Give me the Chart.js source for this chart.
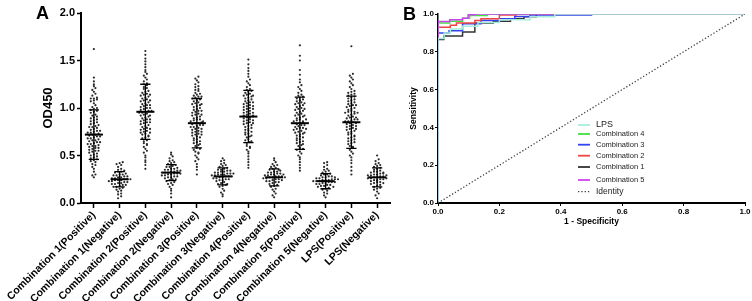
<!DOCTYPE html>
<html>
<head>
<meta charset="utf-8">
<script src="https://cdn.jsdelivr.net/npm/chart.js@4.4.0/dist/chart.umd.min.js"></script>
<style>
  html, body { margin: 0; padding: 0; background: #fff; }
  #wrap { position: relative; width: 752px; height: 301px; overflow: hidden; }
  #chartA { position: absolute; left: 0; top: 0; }
  #chartB { position: absolute; left: 390px; top: 0; }
</style>
</head>
<body>
<div id="wrap">
  <canvas id="chartA" width="400" height="301"></canvas>
  <canvas id="chartB" width="362" height="301"></canvas>
</div>
<script>
// ---- Panel A data ----
const groups = [
  'Combination 1(Positive)', 'Combination 1(Negative)',
  'Combination 2(Positive)', 'Combination 2(Negative)',
  'Combination 3(Positive)', 'Combination 3(Negative)',
  'Combination 4(Positive)', 'Combination 4(Negative)',
  'Combination 5(Positive)', 'Combination 5(Negative)',
  'LPS(Positive)', 'LPS(Negative)'
];

const comb1Pos = [0.27,0.29,0.30,0.33,0.36,0.38,0.40,0.41,0.43,0.44,0.45,0.46,0.47,0.48,0.49,0.50,0.51,0.52,0.53,0.54,
  0.55,0.55,0.56,0.57,0.58,0.58,0.59,0.60,0.60,0.61,0.62,0.62,0.63,0.64,0.64,0.65,0.66,0.66,0.67,0.68,
  0.68,0.69,0.70,0.70,0.71,0.72,0.72,0.73,0.74,0.74,0.75,0.76,0.76,0.77,0.78,0.79,0.80,0.80,0.81,0.82,
  0.83,0.84,0.85,0.86,0.87,0.88,0.89,0.90,0.91,0.92,0.93,0.95,0.96,0.97,0.98,0.99,1.00,1.01,1.03,1.05,
  1.07,1.08,1.09,1.10,1.10,1.11,1.13,1.15,1.17,1.19,1.21,1.23,1.25,1.28,1.32,1.62];
const comb1Neg = [0.05,0.07,0.09,0.10,0.12,0.13,0.14,0.15,0.16,0.17,0.17,0.18,0.19,0.19,0.20,0.20,0.21,0.21,0.22,0.22,
  0.23,0.23,0.24,0.24,0.24,0.25,0.25,0.25,0.26,0.26,0.27,0.27,0.28,0.28,0.29,0.29,0.30,0.30,0.31,0.32,
  0.33,0.33,0.34,0.35,0.36,0.38,0.40,0.41,0.42,0.43];
const comb2Pos = [0.36,0.40,0.43,0.45,0.48,0.50,0.53,0.55,0.57,0.59,0.61,0.63,0.65,0.66,0.68,0.69,0.70,0.72,0.73,0.74,
  0.75,0.76,0.77,0.78,0.79,0.80,0.81,0.82,0.83,0.84,0.85,0.86,0.87,0.88,0.89,0.90,0.91,0.92,0.93,0.94,
  0.95,0.95,0.96,0.97,0.98,0.99,1.00,1.01,1.02,1.03,1.04,1.05,1.06,1.07,1.08,1.09,1.10,1.11,1.12,1.13,
  1.14,1.15,1.16,1.17,1.18,1.20,1.21,1.22,1.24,1.25,1.26,1.28,1.30,1.32,1.34,1.36,1.38,1.40,1.43,1.46,
  1.49,1.52,1.56,1.60,0.71,0.78,0.85,0.92,0.97,1.03,1.08,1.14,0.62,0.74,0.88,1.00];
const comb2Neg = [0.06,0.10,0.13,0.15,0.17,0.19,0.20,0.21,0.22,0.23,0.24,0.25,0.25,0.26,0.27,0.27,0.28,0.28,0.29,0.29,
  0.30,0.30,0.31,0.31,0.31,0.32,0.32,0.32,0.33,0.33,0.34,0.34,0.35,0.35,0.36,0.36,0.37,0.38,0.38,0.39,
  0.40,0.41,0.42,0.43,0.44,0.45,0.47,0.49,0.51,0.53];
const comb3Pos = [0.30,0.35,0.38,0.41,0.44,0.46,0.48,0.50,0.52,0.54,0.56,0.58,0.60,0.61,0.63,0.64,0.66,0.67,0.68,0.70,
  0.71,0.72,0.73,0.74,0.75,0.76,0.77,0.78,0.79,0.80,0.80,0.81,0.82,0.83,0.84,0.84,0.85,0.86,0.87,0.88,
  0.89,0.90,0.91,0.92,0.93,0.94,0.95,0.96,0.97,0.98,0.99,1.00,1.01,1.02,1.03,1.04,1.05,1.06,1.07,1.08,
  1.09,1.10,1.11,1.12,1.13,1.14,1.15,1.16,1.18,1.19,1.20,1.22,1.23,1.25,1.27,1.29,1.31,1.33,
  0.62,0.69,0.75,0.82,0.88,0.93,0.57,0.65,0.78,0.86,0.97,1.04,1.12,0.53,0.72];
const comb3Neg = [0.07,0.09,0.11,0.13,0.15,0.17,0.18,0.19,0.20,0.21,0.22,0.23,0.24,0.24,0.25,0.26,0.26,0.27,0.27,0.28,
  0.28,0.29,0.29,0.30,0.30,0.30,0.31,0.31,0.32,0.32,0.33,0.33,0.34,0.35,0.35,0.36,0.37,0.38,0.39,0.40,
  0.41,0.42,0.44,0.45,0.47,0.20,0.25,0.28,0.31,0.34];
const comb4Pos = [0.37,0.40,0.43,0.46,0.49,0.52,0.54,0.56,0.58,0.60,0.62,0.64,0.66,0.67,0.69,0.70,0.72,0.73,0.74,0.76,
  0.77,0.78,0.79,0.80,0.81,0.82,0.83,0.84,0.85,0.86,0.87,0.88,0.89,0.90,0.90,0.91,0.92,0.93,0.94,0.95,
  0.96,0.97,0.98,0.99,1.00,1.01,1.02,1.03,1.04,1.05,1.06,1.07,1.08,1.09,1.10,1.11,1.12,1.13,1.14,1.15,
  1.16,1.17,1.18,1.19,1.20,1.22,1.24,1.26,1.28,1.30,1.33,1.36,1.39,1.42,1.46,1.51,
  0.65,0.75,0.84,0.92,0.99,1.06,1.13,0.59,0.71,0.87,0.95,1.02];
const comb4Neg = [0.06,0.08,0.10,0.12,0.14,0.15,0.17,0.18,0.19,0.20,0.21,0.22,0.23,0.23,0.24,0.25,0.25,0.26,0.26,0.27,
  0.27,0.28,0.28,0.28,0.29,0.29,0.30,0.30,0.31,0.31,0.32,0.32,0.33,0.33,0.34,0.35,0.36,0.37,0.38,0.39,
  0.40,0.41,0.43,0.45,0.47,0.22,0.27,0.30,0.24,0.35];
const comb5Pos = [0.34,0.37,0.40,0.43,0.46,0.48,0.50,0.52,0.54,0.56,0.58,0.60,0.61,0.63,0.64,0.66,0.67,0.68,0.70,0.71,
  0.72,0.73,0.74,0.75,0.76,0.77,0.78,0.79,0.80,0.81,0.82,0.82,0.83,0.84,0.85,0.86,0.87,0.88,0.89,0.90,
  0.91,0.92,0.93,0.94,0.95,0.96,0.97,0.98,0.99,1.00,1.01,1.02,1.03,1.04,1.05,1.06,1.07,1.08,1.09,1.10,
  1.11,1.12,1.13,1.14,1.16,1.18,1.20,1.22,1.24,1.27,1.30,1.35,1.40,1.50,1.55,1.66,
  0.62,0.69,0.74,0.79,0.86,0.92,0.99,1.05,0.57,0.65,0.78,0.88];
const comb5Neg = [0.06,0.08,0.10,0.11,0.13,0.14,0.15,0.16,0.17,0.18,0.18,0.19,0.20,0.20,0.21,0.21,0.22,0.22,0.23,0.23,
  0.23,0.24,0.24,0.24,0.25,0.25,0.26,0.26,0.27,0.27,0.28,0.28,0.29,0.30,0.30,0.31,0.32,0.33,0.34,0.35,
  0.36,0.38,0.40,0.42,0.43,0.19,0.22,0.25,0.27,0.17];
const lpsPos = [0.30,0.34,0.38,0.42,0.45,0.48,0.50,0.52,0.54,0.56,0.58,0.60,0.62,0.63,0.65,0.66,0.68,0.69,0.70,0.72,
  0.73,0.74,0.75,0.76,0.77,0.78,0.79,0.80,0.81,0.82,0.83,0.84,0.85,0.86,0.86,0.87,0.88,0.89,0.90,0.91,
  0.92,0.93,0.94,0.95,0.96,0.97,0.98,0.99,1.00,1.01,1.02,1.03,1.04,1.05,1.06,1.07,1.08,1.09,1.10,1.11,
  1.12,1.13,1.14,1.15,1.16,1.17,1.18,1.20,1.22,1.24,1.26,1.28,1.30,1.32,1.34,1.36,1.65,
  0.64,0.71,0.78,0.84,0.90,0.96,1.03,0.59,0.67,0.81,0.88,0.95];
const lpsNeg = [0.05,0.08,0.10,0.12,0.14,0.15,0.16,0.17,0.18,0.19,0.20,0.21,0.22,0.22,0.23,0.24,0.24,0.25,0.25,0.26,
  0.26,0.27,0.27,0.28,0.28,0.29,0.29,0.30,0.30,0.31,0.31,0.32,0.33,0.33,0.34,0.35,0.36,0.37,0.38,0.39,
  0.40,0.41,0.42,0.44,0.46,0.50,0.21,0.26,0.29,0.32];

const groupValues = [comb1Pos, comb1Neg, comb2Pos, comb2Neg, comb3Pos, comb3Neg,
  comb4Pos, comb4Neg, comb5Pos, comb5Neg, lpsPos, lpsNeg];
const groupMeans = [0.72, 0.25, 0.96, 0.32, 0.84, 0.28, 0.91, 0.27, 0.84, 0.23, 0.85, 0.27];
const groupSDs = [0.26, 0.08, 0.29, 0.085, 0.26, 0.09, 0.275, 0.09, 0.275, 0.08, 0.275, 0.10];
const odTicks = [0, 0.5, 1.0, 1.5, 2.0];

// ---- Panel B data (ROC step points) ----
const rocLabels = ['LPS', 'Combination 4', 'Combination 3', 'Combination 2', 'Combination 1', 'Combination 5', 'Identity'];
const lpsFpr   = [0, 0,    0.02, 0.04, 0.08,  0.13,  0.20, 0.30,  0.38, 1];
const lpsSens  = [0, 0.87, 0.90, 0.92, 0.935, 0.955, 0.97, 0.985, 1.0,  1];
const comb4Fpr  = [0, 0,     0.038, 0.08,  0.103, 0.16, 1];
const comb4Sens = [0, 0.952, 0.962, 0.978, 0.992, 1.0,  1];
const comb3Fpr  = [0, 0,    0.036, 0.08,  0.14,  0.20,  0.25,  0.30,  0.50, 1];
const comb3Sens = [0, 0.90, 0.912, 0.948, 0.966, 0.975, 0.987, 0.995, 1.0,  1];
const comb2Fpr  = [0, 0,    0.04, 0.06,  0.12,  0.14,  0.20,  0.255, 1];
const comb2Sens = [0, 0.93, 0.94, 0.952, 0.966, 0.975, 0.995, 1.0,   1];
const comb1Fpr  = [0, 0,     0.019, 0.08,  0.12,  0.18,  0.236, 0.28,  0.32, 1];
const comb1Sens = [0, 0.865, 0.883, 0.905, 0.952, 0.962, 0.975, 0.985, 1.0,  1];
const comb5Fpr  = [0, 0,    0.038, 0.08,  0.098, 0.12, 1];
const comb5Sens = [0, 0.96, 0.969, 0.978, 0.996, 1.0,  1];
const identityFpr = [0, 1];
const identitySens = [0, 1];

const FONT = 'Arial, "Liberation Sans", Helvetica, sans-serif';

// lay out dots of one group side by side in rows, like a scatter dot plot
function swarm(values, center) {
  const rows = {};
  values.forEach(v => {
    const r = Math.round(v / 0.03);
    (rows[r] = rows[r] || []).push(v);
  });
  const pts = [];
  Object.values(rows).forEach(row => {
    row.forEach((v, k) => pts.push({ x: center + (k - (row.length - 1) / 2) * 0.12, y: v }));
  });
  return pts;
}

const toXY = (xs, ys) => xs.map((x, i) => ({ x: x, y: ys[i] }));

const meanSdPlugin = {
  id: 'meanSd',
  afterDatasetsDraw(chart) {
    const { ctx, scales: { x, y } } = chart;
    ctx.save();
    ctx.strokeStyle = '#000';
    groupMeans.forEach((m, i) => {
      const cx = x.getPixelForValue(i);
      const half = x.getPixelForValue(i + 0.35) - cx;
      const cap = x.getPixelForValue(i + 0.2) - cx;
      const ym = y.getPixelForValue(m);
      const yt = y.getPixelForValue(m + groupSDs[i]);
      const yb = y.getPixelForValue(m - groupSDs[i]);
      ctx.lineWidth = 1.3;
      ctx.beginPath();
      ctx.moveTo(cx, yt); ctx.lineTo(cx, yb);
      ctx.moveTo(cx - cap, yt); ctx.lineTo(cx + cap, yt);
      ctx.moveTo(cx - cap, yb); ctx.lineTo(cx + cap, yb);
      ctx.stroke();
      ctx.lineWidth = 2;
      ctx.beginPath();
      ctx.moveTo(cx - half, ym); ctx.lineTo(cx + half, ym);
      ctx.stroke();
    });
    ctx.restore();
  }
};

const panelLetter = (letter, px, py) => ({
  id: 'letter' + letter,
  afterDraw(chart) {
    const ctx = chart.ctx;
    ctx.save();
    ctx.font = 'bold 18px ' + FONT;
    ctx.fillStyle = '#000';
    ctx.textBaseline = 'alphabetic';
    ctx.fillText(letter, px, py);
    ctx.restore();
  }
});

new Chart(document.getElementById('chartA'), {
  type: 'scatter',
  data: {
    datasets: groupValues.map((vals, i) => ({
      label: groups[i],
      data: swarm(vals, i),
      pointRadius: 1.1,
      pointBorderWidth: 0,
      pointBackgroundColor: '#2a2a2a',
      pointHoverRadius: 1.1
    }))
  },
  options: {
    responsive: false,
    devicePixelRatio: 1,
    animation: false,
    layout: { padding: { left: 0, top: 13, right: 10, bottom: 0 } },
    plugins: { legend: { display: false }, tooltip: { enabled: false } },
    scales: {
      x: {
        type: 'linear',
        min: -0.5,
        max: 11.5,
        afterBuildTicks: s => { s.ticks = groups.map((g, i) => ({ value: i })); },
        afterFit: s => { s.height = 98; },
        ticks: {
          autoSkip: false,
          minRotation: 45,
          maxRotation: 45,
          padding: 1,
          color: '#000',
          font: { family: FONT, size: 10.5, weight: 'bold' },
          callback: v => groups[v]
        },
        grid: { drawOnChartArea: false, drawTicks: true, tickLength: 5, tickColor: '#000', tickWidth: 1.5 },
        border: { display: true, color: '#000', width: 2 }
      },
      y: {
        min: 0,
        max: 2,
        afterBuildTicks: s => { s.ticks = odTicks.map(v => ({ value: v })); },
        afterFit: s => { s.width = 81; },
        ticks: {
          padding: 2,
          color: '#000',
          font: { family: FONT, size: 11, weight: 'bold' },
          callback: v => v.toFixed(1)
        },
        title: {
          display: true,
          text: 'OD450',
          color: '#000',
          font: { family: FONT, size: 13, weight: 'bold' },
          padding: { top: 41, bottom: 0 }
        },
        grid: { drawOnChartArea: false, drawTicks: true, tickLength: 4, tickColor: '#000', tickWidth: 1.5 },
        border: { display: true, color: '#000', width: 2 }
      }
    }
  },
  plugins: [meanSdPlugin, panelLetter('A', 36, 18.5)]
});

// ---- Panel B ----
const rocColors = ['#a8ecdc', '#44dd44', '#3344ee', '#ee4444', '#333333', '#cc44ee', '#444444'];
const rocOrder = [1, 3, 5, 4, 6, 2, 0];
const rocSeries = [
  toXY(lpsFpr, lpsSens), toXY(comb4Fpr, comb4Sens), toXY(comb3Fpr, comb3Sens),
  toXY(comb2Fpr, comb2Sens), toXY(comb1Fpr, comb1Sens), toXY(comb5Fpr, comb5Sens),
  toXY(identityFpr, identitySens)
];
const legendRowOffsets = [0, 9, 19.7, 30.7, 42, 55, 66.7];
const legendFontSizes = [9, 7.5, 7.5, 7.5, 7.5, 7.5, 8.5];

const rocLegend = {
  id: 'rocLegend',
  afterDraw(chart) {
    const { ctx, chartArea } = chart;
    const x0 = chartArea.left + 140;
    const y0 = chartArea.top + 111;
    chart.data.datasets.forEach((ds, i) => {
      const yy = y0 + legendRowOffsets[i];
      ctx.save();
      ctx.strokeStyle = ds.borderColor;
      ctx.lineWidth = ds.borderDash ? 1.3 : 1.8;
      ctx.setLineDash(ds.borderDash || []);
      ctx.beginPath();
      ctx.moveTo(x0, yy); ctx.lineTo(x0 + 12, yy);
      ctx.stroke();
      ctx.setLineDash([]);
      ctx.font = legendFontSizes[i] + 'px ' + FONT;
      ctx.fillStyle = '#222';
      ctx.textBaseline = 'middle';
      ctx.fillText(ds.label, x0 + 18, yy);
      ctx.restore();
    });
  }
};

new Chart(document.getElementById('chartB'), {
  type: 'line',
  data: {
    datasets: rocSeries.map((pts, i) => ({
      label: rocLabels[i],
      data: pts,
      borderColor: rocColors[i],
      borderWidth: i === 6 ? 1.3 : 1.5,
      borderDash: i === 6 ? [1.3, 2] : undefined,
      stepped: i === 6 ? false : 'before',
      pointRadius: 0,
      fill: false,
      order: rocOrder[i]
    }))
  },
  options: {
    responsive: false,
    devicePixelRatio: 1,
    animation: false,
    layout: { padding: { left: 0, top: 14, right: 7, bottom: 0 } },
    plugins: { legend: { display: false }, tooltip: { enabled: false } },
    scales: {
      x: {
        type: 'linear',
        min: 0,
        max: 1,
        afterFit: s => { s.height = 98; },
        ticks: {
          stepSize: 0.2,
          padding: 1,
          maxRotation: 0,
          color: '#000',
          font: { family: FONT, size: 8, weight: 'bold' },
          callback: v => v.toFixed(1)
        },
        title: {
          display: true,
          text: '1 - Specificity',
          color: '#000',
          font: { family: FONT, size: 8.5, weight: 'bold' },
          padding: { top: 0, bottom: 74 }
        },
        grid: { drawOnChartArea: false, drawTicks: true, tickLength: 3, tickColor: '#000', tickWidth: 1 },
        border: { display: true, color: '#000', width: 2 }
      },
      y: {
        min: 0,
        max: 1,
        afterFit: s => { s.width = 48; },
        ticks: {
          stepSize: 0.2,
          padding: 1,
          color: '#000',
          font: { family: FONT, size: 8, weight: 'bold' },
          callback: v => v.toFixed(1)
        },
        title: {
          display: true,
          text: 'Sensitivity',
          color: '#000',
          font: { family: FONT, size: 8.5, weight: 'bold' },
          padding: { top: 19, bottom: 0 }
        },
        grid: { drawOnChartArea: false, drawTicks: true, tickLength: 3, tickColor: '#000', tickWidth: 1 },
        border: { display: true, color: '#000', width: 1.5 }
      }
    }
  },
  plugins: [rocLegend, panelLetter('B', 13, 20)]
});
</script>
</body>
</html>
